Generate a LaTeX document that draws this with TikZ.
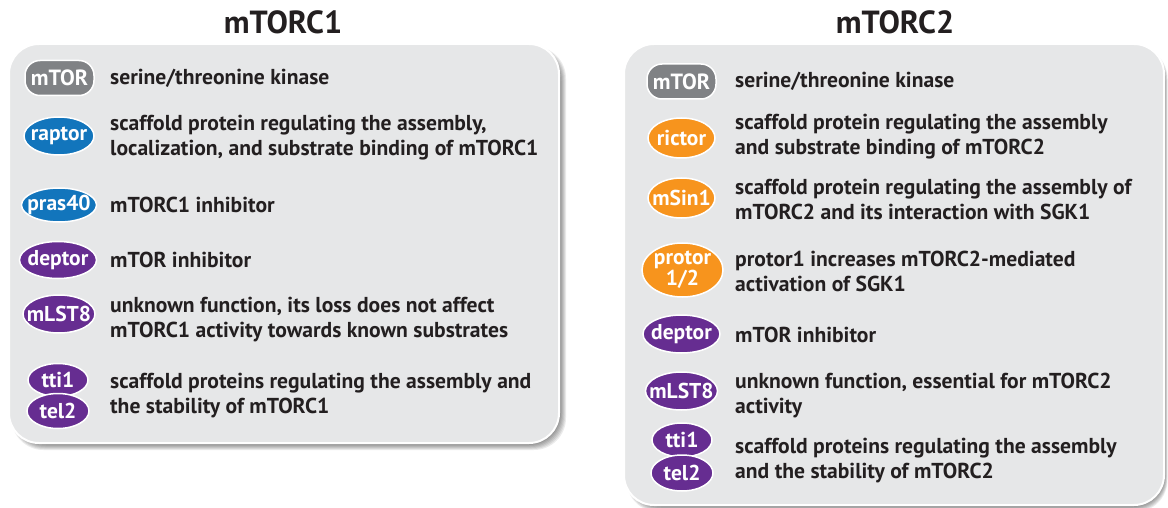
\documentclass[tikz,border=0pt]{standalone}
\usepackage{fontspec}
\setmainfont{PT Sans}
\usetikzlibrary{shapes.geometric}
\definecolor{txt}{RGB}{35,31,32}
\definecolor{boxgray}{RGB}{230,231,232}
\definecolor{mgray}{RGB}{128,130,133}
\definecolor{mblue}{RGB}{18,117,188}
\definecolor{mpurple}{RGB}{102,45,145}
\definecolor{morange}{RGB}{247,148,29}
\begin{document}
\begin{tikzpicture}[x=1pt,y=-1pt,
  title/.style={font=\bfseries\fontsize{32}{32}\selectfont, text=txt},
  desc/.style={anchor=west, align=left, inner sep=0pt, text=txt, font=\bfseries\fontsize{21.6}{25}\selectfont},
  pill/.style={rectangle, rounded corners=15, draw=white, line width=1.5pt, fill=mgray, text=white, minimum width=69, minimum height=35, inner sep=0pt, font=\bfseries\fontsize{22}{22}\selectfont},
  ell/.style={ellipse, draw=white, line width=1.5pt, inner sep=0pt},
  lbl/.style={text=white, inner sep=0pt, align=center, font=\bfseries\fontsize{21.5}{19}\selectfont},
  panel/.style={draw=white, line width=2pt, fill=boxgray, rounded corners=30}
]
\useasboundingbox (0,0) rectangle (1168,508);
\fill[white] (0,0) rectangle (1168,508);

% shadows
\foreach \s in {0,1,...,7} {
  \fill[black, opacity=0.08, rounded corners=32] (9+6-\s*0.5,44+6-\s*0.5) rectangle (559+\s,443+\s);
  \fill[black, opacity=0.08, rounded corners=32] (624+6-\s*0.5,44+6-\s*0.5) rectangle (1164+\s*0.5,505+\s);
}

% panels
\draw[panel] (9,44) rectangle (559,443);
\draw[panel] (624,44) rectangle (1164,505);

% titles
\node[title] (t1) at (283,22) {mTORC1};
\node[title] (t2) at (895,22) {mTORC2};

% ---- mTORC1 ----
\node[pill] (a1) at (59.5,78) {mTOR};
\node[desc] (d1) at (110,78) {serine/threonine kinase};

\node[ell, fill=mblue, minimum width=70, minimum height=38, label={[lbl]center:raptor}] (a2) at (59,136) {};
\node[desc] (d2) at (110,137.5) {scaffold protein regulating the assembly,\\localization, and substrate binding of mTORC1};

\node[ell, fill=mblue, minimum width=75, minimum height=34, label={[lbl]center:pras40}] (a3) at (59,205) {};
\node[desc] (d3) at (110,205) {mTORC1 inhibitor};

\node[ell, fill=mpurple, minimum width=77, minimum height=37, label={[lbl]center:deptor}] (a4) at (58,260) {};
\node[desc] (d4) at (110,260) {mTOR inhibitor};

\node[ell, fill=mpurple, minimum width=72, minimum height=38, label={[lbl]center:mLST8}] (a5) at (59,314) {};
\node[desc] (d5) at (110,319.5) {unknown function, its loss does not affect\\mTORC1 activity towards known substrates};

\node[ell, fill=mpurple, minimum width=60, minimum height=33, label={[lbl]center:tti1}] (a6) at (58,380) {};
\node[ell, fill=mpurple, minimum width=62, minimum height=35, label={[lbl]center:tel2}] (a7) at (58,411) {};
\node[desc] (d6) at (110,395.5) {scaffold proteins regulating the assembly and\\the stability of mTORC1};

% ---- mTORC2 ----
\node[pill] (b1) at (681.5,81.5) {mTOR};
\node[desc] (e1) at (735,81.5) {serine/threonine kinase};

\node[ell, fill=morange, minimum width=67, minimum height=40, label={[lbl]center:rictor}] (b2) at (681.5,138) {};
\node[desc] (e2) at (735,137) {scaffold protein regulating the assembly\\and substrate binding of mTORC2};

\node[ell, fill=morange, minimum width=67, minimum height=40, label={[lbl]center:mSin1}] (b3) at (681.5,198) {};
\node[desc] (e3) at (735,199.5) {scaffold protein regulating the assembly of\\mTORC2 and its interaction with SGK1};

\node[ell, fill=morange, minimum width=81, minimum height=54, label={[lbl]center:protor\\1/2}] (b4) at (682.5,270) {};
\node[desc] (e4) at (735,271.5) {protor1 increases mTORC2-mediated\\activation of SGK1};

\node[ell, fill=mpurple, minimum width=77, minimum height=38, label={[lbl]center:deptor}] (b5) at (681.5,334) {};
\node[desc] (e5) at (735,334.5) {mTOR inhibitor};

\node[ell, fill=mpurple, minimum width=72, minimum height=38, label={[lbl]center:mLST8}] (b6) at (681.5,391) {};
\node[desc] (e6) at (735,395.5) {unknown function, essential for mTORC2\\activity};

\node[ell, fill=mpurple, minimum width=60, minimum height=34, label={[lbl]center:tti1}] (b7) at (682,440) {};
\node[ell, fill=mpurple, minimum width=62, minimum height=36, label={[lbl]center:tel2}] (b8) at (682,473) {};
\node[desc] (e7) at (735,461) {scaffold proteins regulating the assembly\\and the stability of mTORC2};
\end{tikzpicture}
\end{document}
